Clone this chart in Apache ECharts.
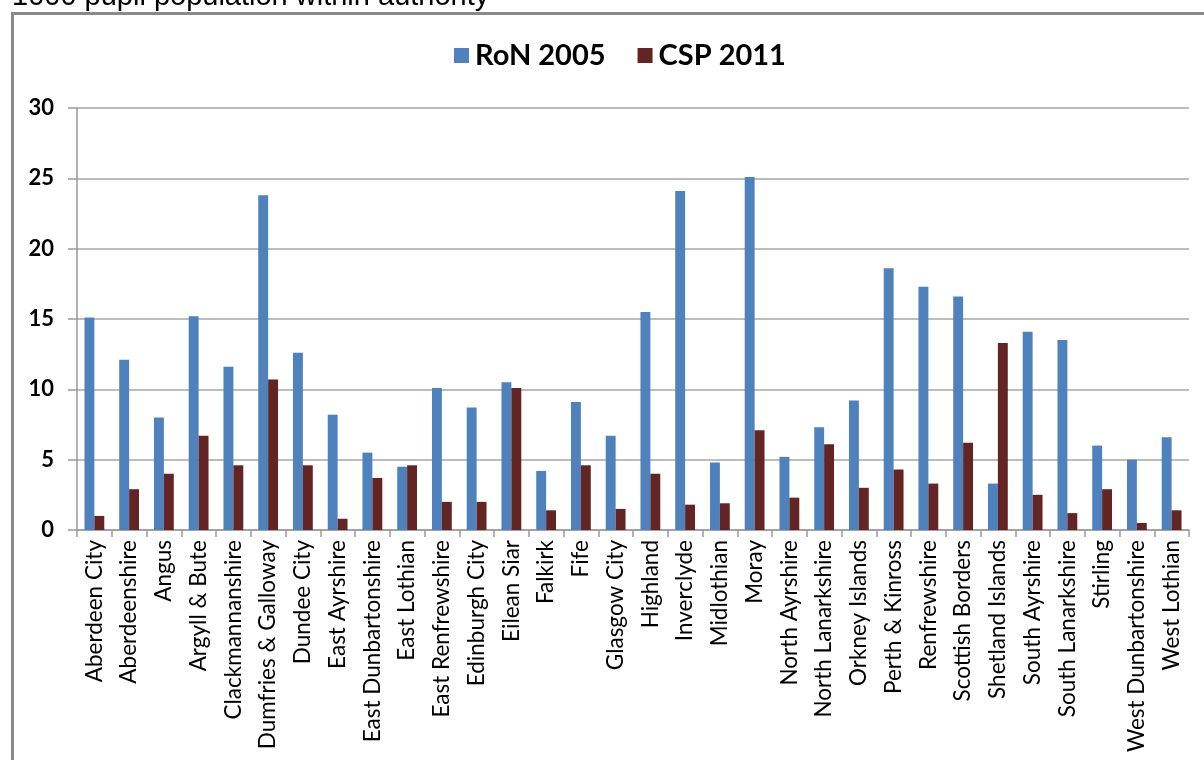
<!DOCTYPE html>
<html>
<head>
<meta charset="utf-8">
<script src="https://cdn.jsdelivr.net/npm/echarts@6/dist/echarts.min.js"></script>
<style>
  html, body { margin: 0; padding: 0; background: #ffffff; }
  #chart { width: 1204px; height: 760px; }
</style>
</head>
<body>
<div id="chart"></div>
<script>
// Local authorities
const categories = [
  'Aberdeen City', 'Aberdeenshire', 'Angus', 'Argyll & Bute', 'Clackmannanshire',
  'Dumfries & Galloway', 'Dundee City', 'East Ayrshire', 'East Dunbartonshire',
  'East Lothian', 'East Renfrewshire', 'Edinburgh City', 'Eilean Siar', 'Falkirk',
  'Fife', 'Glasgow City', 'Highland', 'Inverclyde', 'Midlothian', 'Moray',
  'North Ayrshire', 'North Lanarkshire', 'Orkney Islands', 'Perth & Kinross',
  'Renfrewshire', 'Scottish Borders', 'Shetland Islands', 'South Ayrshire',
  'South Lanarkshire', 'Stirling', 'West Dunbartonshire', 'West Lothian'
];

// Rate per 1000 pupil population within authority
const ron2005 = [
  15.1, 12.1, 8.0, 15.2, 11.6, 23.8, 12.6, 8.2, 5.5, 4.5, 10.1, 8.7, 10.5, 4.2,
  9.1, 6.7, 15.5, 24.1, 4.8, 25.1, 5.2, 7.3, 9.2, 18.6, 17.3, 16.6, 3.3, 14.1,
  13.5, 6.0, 5.0, 6.6
];
const csp2011 = [
  1.0, 2.9, 4.0, 6.7, 4.6, 10.7, 4.6, 0.8, 3.7, 4.6, 2.0, 2.0, 10.1, 1.4,
  4.6, 1.5, 4.0, 1.8, 1.9, 7.1, 2.3, 6.1, 3.0, 4.3, 3.3, 6.2, 13.3, 2.5,
  1.2, 2.9, 0.5, 1.4
];

const seriesNames = ['RoN 2005', 'CSP 2011'];
const yTicks = { min: 0, max: 30, interval: 5 };

const chart = echarts.init(document.getElementById('chart'), null, { renderer: 'canvas' });

chart.setOption({
  backgroundColor: '#ffffff',
  animation: false,
  graphic: [
    {
      type: 'rect',
      left: 10, top: 11,
      shape: { x: 0, y: 0, width: 1220, height: 800 },
      style: { fill: 'none', stroke: '#8a8a8a', lineWidth: 3 },
      z: 0
    },
    {
      type: 'text',
      x: 12, y: 11,
      style: {
        text: '1000 pupil population within authority',
        font: '29px "Liberation Sans", Arial, sans-serif',
        fill: '#000000',
        verticalAlign: 'bottom',
        align: 'left'
      }
    }
  ],
  legend: {
    data: seriesNames,
    top: 36,
    left: 449,
    itemWidth: 15,
    itemHeight: 15,
    itemGap: 32,
    icon: 'rect',
    textStyle: {
      fontFamily: 'Lato, "Open Sans", sans-serif',
      fontWeight: 'bold',
      fontSize: 29,
      color: '#000000',
      padding: [0, 0, 0, 1]
    }
  },
  grid: { left: 77, right: 15, top: 108, bottom: 230, containLabel: false },
  xAxis: {
    type: 'category',
    data: categories,
    axisLine: { lineStyle: { color: '#9a9a9a', width: 1.5 } },
    axisTick: { show: true, length: 7, lineStyle: { color: '#9a9a9a', width: 1.5 } },
    axisLabel: {
      rotate: 90,
      interval: 0,
      margin: 10,
      fontFamily: 'Lato, "Open Sans", sans-serif',
      fontSize: 22.5,
      color: '#000000'
    }
  },
  yAxis: {
    type: 'value',
    min: yTicks.min,
    max: yTicks.max,
    interval: yTicks.interval,
    axisLine: { show: true, lineStyle: { color: '#9a9a9a', width: 1.5 } },
    axisTick: { show: true, length: 9, lineStyle: { color: '#9a9a9a', width: 1.5 } },
    splitLine: { lineStyle: { color: '#a6a6a6', width: 1.5 } },
    axisLabel: {
      margin: 23,
      fontFamily: 'Lato, "Open Sans", sans-serif',
      fontWeight: 'bold',
      fontSize: 22,
      color: '#000000'
    }
  },
  series: [
    {
      name: seriesNames[0],
      type: 'bar',
      data: ron2005,
      barGap: '0%',
      barCategoryGap: '43%',
      itemStyle: { color: '#4F81BD' }
    },
    {
      name: seriesNames[1],
      type: 'bar',
      data: csp2011,
      barGap: '0%',
      barCategoryGap: '43%',
      itemStyle: { color: '#632523' }
    }
  ]
});
</script>
</body>
</html>
